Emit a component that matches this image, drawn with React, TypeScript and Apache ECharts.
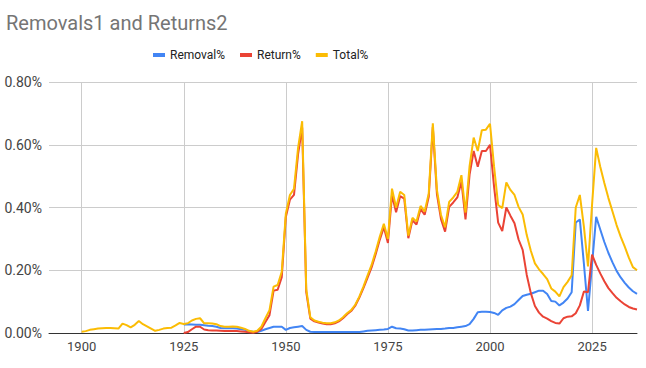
import React, { useEffect, useRef } from "react";
import * as echarts from "echarts";

const TITLE = "Removals1 and Returns2";
const SERIES_NAMES = ["Removal%", "Return%", "Total%"];
const COLORS = ["#4285F4", "#EA4335", "#FBBC04"];
const X_TICKS = [1900, 1925, 1950, 1975, 2000, 2025];
const Y_TICKS = [0, 0.2, 0.4, 0.6, 0.8];

const TOTAL_START = 1900;
const TOTAL = [
  0.004, 0.006, 0.010, 0.012, 0.014, 0.015, 0.016, 0.016, 0.015, 0.014,
  0.030, 0.025, 0.018, 0.026, 0.038, 0.028, 0.021, 0.014, 0.007, 0.010,
  0.014, 0.016, 0.017, 0.024, 0.032, 0.029, 0.031, 0.040, 0.045, 0.047,
  0.031, 0.031, 0.030, 0.028, 0.022, 0.020, 0.020, 0.021, 0.020, 0.017,
  0.013, 0.007, 0.004, 0.007, 0.020, 0.047, 0.073, 0.148, 0.153, 0.195,
  0.380, 0.440, 0.460, 0.590, 0.675, 0.140, 0.050, 0.040, 0.036, 0.033,
  0.031, 0.031, 0.034, 0.040, 0.050, 0.063, 0.073, 0.090, 0.116, 0.148,
  0.183, 0.217, 0.260, 0.307, 0.348, 0.300, 0.460, 0.400, 0.450, 0.440,
  0.310, 0.367, 0.355, 0.405, 0.387, 0.445, 0.668, 0.456, 0.376, 0.337,
  0.418, 0.432, 0.450, 0.503, 0.384, 0.532, 0.623, 0.580, 0.646, 0.648,
  0.667, 0.530, 0.408, 0.398, 0.480, 0.456, 0.440, 0.402, 0.378, 0.312,
  0.262, 0.222, 0.203, 0.188, 0.172, 0.142, 0.132, 0.117, 0.146, 0.163,
  0.184, 0.400, 0.440, 0.338, 0.212, 0.410, 0.590, 0.530, 0.478, 0.430,
  0.387, 0.344, 0.307, 0.275, 0.240, 0.210, 0.200,
];

const PARTS_START = 1925;
const REMOVAL = [
  0.027, 0.028, 0.027, 0.026, 0.026,
  0.025, 0.023, 0.022, 0.020, 0.016, 0.015, 0.015, 0.015, 0.014, 0.012,
  0.010, 0.006, 0.004, 0.003, 0.007, 0.012, 0.016, 0.020, 0.020, 0.020,
  0.010, 0.016, 0.018, 0.020, 0.022, 0.010, 0.004, 0.003, 0.003, 0.003,
  0.003, 0.003, 0.003, 0.003, 0.003, 0.003, 0.003, 0.003, 0.003, 0.005,
  0.007, 0.008, 0.009, 0.010, 0.011, 0.013, 0.020, 0.015, 0.014, 0.012,
  0.008, 0.008, 0.009, 0.010, 0.010, 0.011, 0.012, 0.013, 0.013, 0.014,
  0.016, 0.016, 0.018, 0.020, 0.022, 0.028, 0.045, 0.066, 0.068, 0.068,
  0.067, 0.064, 0.058, 0.072, 0.080, 0.084, 0.092, 0.105, 0.118, 0.122,
  0.125, 0.130, 0.135, 0.135, 0.124, 0.102, 0.100, 0.088, 0.097, 0.110,
  0.130, 0.352, 0.362, 0.220, 0.070, 0.220, 0.370, 0.330, 0.290, 0.255,
  0.225, 0.198, 0.177, 0.160, 0.145, 0.133, 0.125,
];
const RETURN = [
  0.000, 0.003, 0.012, 0.020, 0.020,
  0.011, 0.009, 0.008, 0.008, 0.007, 0.006, 0.006, 0.006, 0.006, 0.005,
  0.004, 0.002, 0.001, 0.004, 0.013, 0.035, 0.057, 0.135, 0.138, 0.178,
  0.370, 0.425, 0.440, 0.570, 0.655, 0.130, 0.046, 0.037, 0.033, 0.030,
  0.028, 0.028, 0.031, 0.037, 0.047, 0.060, 0.070, 0.087, 0.113, 0.143,
  0.176, 0.209, 0.251, 0.297, 0.337, 0.287, 0.440, 0.385, 0.436, 0.428,
  0.302, 0.359, 0.346, 0.395, 0.377, 0.434, 0.656, 0.443, 0.363, 0.323,
  0.402, 0.416, 0.432, 0.483, 0.362, 0.505, 0.580, 0.530, 0.580, 0.580,
  0.600, 0.466, 0.352, 0.325, 0.400, 0.374, 0.350, 0.298, 0.265, 0.185,
  0.127, 0.086, 0.065, 0.052, 0.046, 0.038, 0.032, 0.030, 0.047, 0.052,
  0.053, 0.063, 0.088, 0.132, 0.130, 0.250, 0.217, 0.190, 0.165, 0.143,
  0.127, 0.112, 0.101, 0.091, 0.083, 0.078, 0.075,
];

const toPairs = (start: number, vals: number[]) => vals.map((v, i) => [start + i, v]);

const FONT = "Roboto, Arial, sans-serif";

export default function App() {
  const ref = useRef<HTMLDivElement>(null);
  useEffect(() => {
    if (!ref.current) return;
    const chart = echarts.init(ref.current, undefined, { renderer: "svg" });
    const datasets = [toPairs(PARTS_START, REMOVAL), toPairs(PARTS_START, RETURN), toPairs(TOTAL_START, TOTAL)];
    chart.setOption({
      animation: false,
      backgroundColor: "#ffffff",
      textStyle: { fontFamily: FONT },
      title: {
        text: TITLE,
        left: 1,
        top: 8,
        textStyle: { fontSize: 20, fontWeight: "normal", color: "#757575", fontFamily: FONT },
      },
      legend: {
        data: SERIES_NAMES,
        left: 148,
        top: 44,
        icon: "rect",
        itemWidth: 12,
        itemHeight: 4,
        itemGap: 15,
        textStyle: { fontSize: 12, color: "#222", fontFamily: FONT },
      },
      grid: { left: 49, right: 9, top: 82, bottom: 35, containLabel: false },
      xAxis: {
        type: "value",
        min: 1892,
        max: 2036,
        axisLine: { show: true, onZero: true, lineStyle: { color: "#333", width: 1 } },
        axisTick: { show: false, customValues: X_TICKS },
        axisLabel: {
          customValues: X_TICKS,
          margin: 7,
          fontSize: 13,
          color: "#444",
          fontFamily: FONT,
          formatter: (v: number) => String(v),
        },
        splitLine: { show: true, lineStyle: { color: "#cccccc", width: 1 } },
      },
      yAxis: {
        type: "value",
        min: Y_TICKS[0],
        max: Y_TICKS[Y_TICKS.length - 1],
        interval: 0.2,
        axisLine: { show: false },
        axisTick: { show: false },
        axisLabel: {
          margin: 7,
          fontSize: 14,
          color: "#444",
          fontFamily: FONT,
          formatter: (v: number) => v.toFixed(2) + "%",
        },
        splitLine: { show: true, lineStyle: { color: "#cccccc", width: 1 } },
      },
      series: SERIES_NAMES.map((name, i) => ({
        name,
        type: "line",
        data: datasets[i],
        showSymbol: false,
        symbol: "none",
        color: COLORS[i],
        lineStyle: { width: 2, color: COLORS[i] },
        z: 2 + i,
      })),
    });
    return () => chart.dispose();
  }, []);
  return <div ref={ref} style={{ position: "fixed", left: 0, top: 0, width: 646, height: 368 }} />;
}
